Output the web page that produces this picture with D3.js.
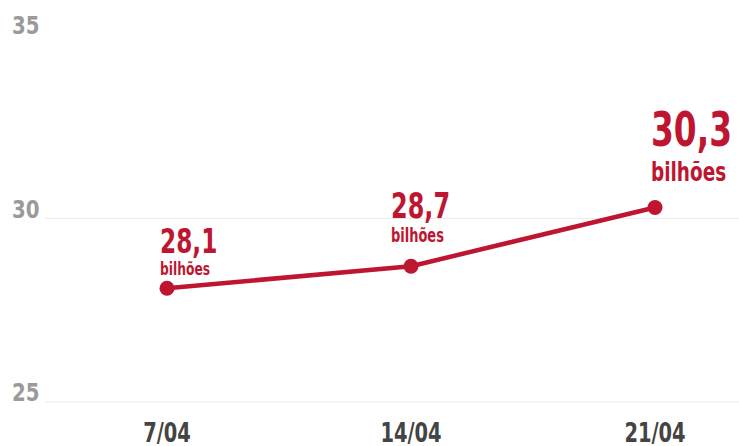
<!DOCTYPE html>
<html>
<head>
<meta charset="utf-8">
<script src="https://cdn.jsdelivr.net/npm/d3@7"></script>
<style>
  body { margin: 0; background: #fff; }
  svg text { font-family: "DejaVu Sans Condensed", "DejaVu Sans", sans-serif; font-weight: bold; }
</style>
</head>
<body>
<svg id="chart" width="739" height="446"></svg>
<script>
// data
var dates = ["7/04", "14/04", "21/04"];
var values = [28.1, 28.7, 30.3];
var valueLabels = ["28,1", "28,7", "30,3"];
var unitLabel = "bilhões";
var yTicks = [25, 30, 35];

var svg = d3.select("#chart");
var red = "#be1530";

var x = d3.scalePoint()
    .domain(dates)
    .range([167, 655]);
var y = d3.scaleLinear()
    .domain([25, 35])
    .range([402, 35]);

// squeeze text horizontally to mimic the condensed face
function squeeze(sel, sx) {
    sel.attr("transform", function() {
        var t = d3.select(this);
        return "translate(" + t.attr("data-x") + "," + t.attr("data-y") + ") scale(" + sx + ",1)";
    });
}

// gridlines + y labels
var grid = svg.append("g");
grid.selectAll("line")
    .data(yTicks.filter(function(d) { return d < 35; }))
    .enter().append("line")
        .attr("x1", 45).attr("x2", 739)
        .attr("y1", function(d) { return y(d); })
        .attr("y2", function(d) { return y(d); })
        .attr("stroke", "#ececec")
        .attr("stroke-width", 1.2);
grid.selectAll("text")
    .data(yTicks)
    .enter().append("text")
        .attr("data-x", 12)
        .attr("data-y", function(d) { return y(d) - 1; })
        .attr("fill", "#9a9a9a")
        .attr("font-size", 25)
        .text(function(d) { return d; })
        .call(squeeze, 0.88);

// x labels
svg.append("g").selectAll("text")
    .data(dates)
    .enter().append("text")
        .attr("data-x", function(d) { return x(d); })
        .attr("data-y", 442)
        .attr("text-anchor", "middle")
        .attr("fill", "#444")
        .attr("font-size", 27)
        .text(function(d) { return d; })
        .call(squeeze, 0.8);

var pts = dates.map(function(d, i) { return {date: d, value: values[i], label: valueLabels[i]}; });

var line = d3.line()
    .x(function(d) { return x(d.date); })
    .y(function(d) { return y(d.value); });

svg.append("path")
    .datum(pts)
    .attr("d", line)
    .attr("fill", "none")
    .attr("stroke", red)
    .attr("stroke-width", 4.5)
    .attr("stroke-linejoin", "round");

svg.selectAll(".dot")
    .data(pts)
    .enter().append("circle")
        .attr("class", "dot")
        .attr("cx", function(d) { return x(d.date); })
        .attr("cy", function(d) { return y(d.value); })
        .attr("r", 7.5)
        .attr("fill", red);

// value labels: last one is bigger
var labelDx = [-7, -20, -4],
    bigSize = [34, 35, 48],
    smallSize = [18, 19, 27],
    numDy = [-35, -48, -61],
    unitDy = [-13, -24, -26];

var lab = svg.selectAll(".lab")
    .data(pts)
    .enter().append("g")
        .attr("class", "lab")
        .attr("transform", function(d, i) {
            return "translate(" + (x(d.date) + labelDx[i]) + "," + y(d.value) + ")";
        });
lab.append("text")
    .attr("data-x", 0)
    .attr("data-y", function(d, i) { return numDy[i]; })
    .attr("fill", red)
    .attr("font-size", function(d, i) { return bigSize[i]; })
    .text(function(d) { return d.label; })
    .call(squeeze, 0.76);
lab.append("text")
    .attr("data-x", 0)
    .attr("data-y", function(d, i) { return unitDy[i]; })
    .attr("fill", red)
    .attr("font-size", function(d, i) { return smallSize[i]; })
    .text(unitLabel)
    .call(squeeze, 0.76);
</script>
</body>
</html>
